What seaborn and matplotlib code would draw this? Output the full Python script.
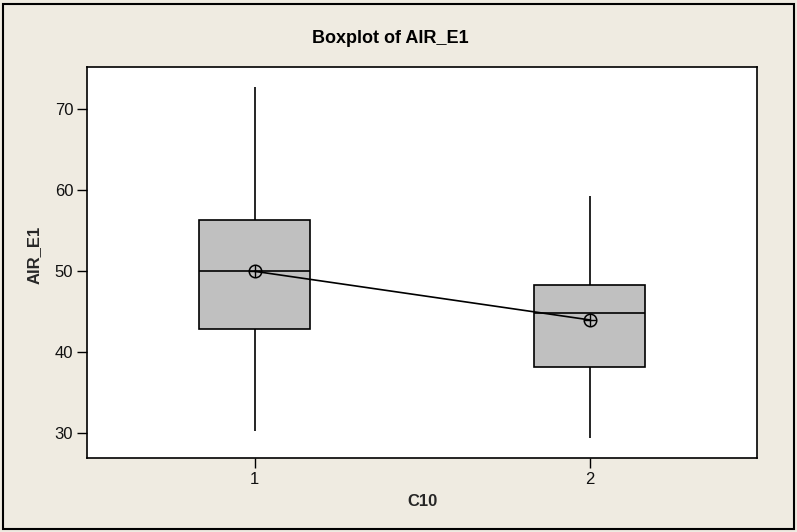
import matplotlib
matplotlib.use("Agg")
import matplotlib.pyplot as plt
from matplotlib.patches import Rectangle
import pandas as pd
import seaborn as sns

# Group labels and five-number summaries of AIR_E1 by C10
groups = ["1", "2"]
whisker_low = [30.3, 29.4]
q1 = [42.9, 38.2]
median = [50.0, 44.8]
q3 = [56.3, 48.3]
whisker_high = [72.7, 59.3]
means = [50.0, 44.0]
y_ticks = [30, 40, 50, 60, 70]

sns.set_theme(style="white")
plt.rcParams["font.family"] = ["Liberation Sans", "DejaVu Sans"]

rows = []
for g, lo, a, m, b, hi in zip(groups, whisker_low, q1, median, q3, whisker_high):
    for v in (lo, a, m, b, hi):
        rows.append({"C10": g, "AIR_E1": v})
df = pd.DataFrame(rows)
mean_df = pd.DataFrame({"C10": groups, "AIR_E1": means})

bg = "#EFEBE1"
fig = plt.figure(figsize=(7.97, 5.32), dpi=100, facecolor=bg)
ax = fig.add_axes([0.1092, 0.1397, 0.8407, 0.7344])
ax.set_facecolor("white")

sns.boxplot(data=df, x="C10", y="AIR_E1", order=groups, color="#C0C0C0",
            saturation=1, width=0.332, whis=(0, 100), showcaps=False,
            fliersize=0, linecolor="black", linewidth=1.2, ax=ax)

# Connect group means, marked with a circled plus
sns.pointplot(data=mean_df, x="C10", y="AIR_E1", order=groups, color="black",
              errorbar=None, markers="o", linestyles="-", linewidth=1.2,
              markersize=9, markerfacecolor="none", markeredgewidth=1.1,
              ax=ax)
sns.pointplot(data=mean_df, x="C10", y="AIR_E1", order=groups, color="black",
              errorbar=None, markers="+", linestyles="none",
              markersize=9, markeredgewidth=1.0, ax=ax)

ax.set_xlim(-0.5, 1.5)
ax.set_ylim(26.99, 75.22)
ax.set_yticks(y_ticks)
ax.set_yticklabels([str(t) for t in y_ticks])
ax.set_xticks(range(len(groups)))
ax.set_xticklabels(groups)

for s in ax.spines.values():
    s.set_color("black")
    s.set_linewidth(1.2)
    s.set_visible(True)

ax.tick_params(axis="both", which="major", direction="out", length=7,
               width=1.0, color="black", labelsize=12, labelcolor="#111111",
               pad=3, bottom=True, left=True)

ax.set_xlabel("C10", fontsize=12, fontweight="bold", labelpad=5)
ax.set_ylabel("AIR_E1", fontsize=12, fontweight="bold")
ax.yaxis.set_label_coords(-0.067, 0.52)

fig.text(0.49, 0.928, "Boxplot of AIR_E1", ha="center", va="center",
         fontsize=13, fontweight="bold", color="black")

fig.patches.append(Rectangle((0.0038, 0.0056), 0.9925, 0.9868,
                             transform=fig.transFigure, fill=False,
                             edgecolor="black", linewidth=1.5))

fig.savefig("out.png", dpi=100, facecolor=bg)
